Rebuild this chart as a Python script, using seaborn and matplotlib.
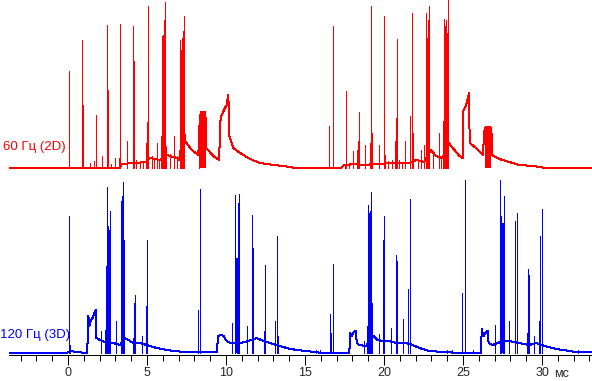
import numpy as np
import matplotlib
matplotlib.use("Agg")
import matplotlib.pyplot as plt
import seaborn as sns

# --- данные (время, мс; амплитуда, усл. ед.) ---
# огибающая / фон красного сигнала (60 Гц, 2D)
red_floor_t = [-3.73, 3.29, 3.40, 4.98, 5.19, 5.82, 6.25, 6.88, 7.03, 7.34, 7.41, 7.83, 8.25,
               8.35, 8.50, 8.72, 8.74, 9.20, 9.56, 9.66, 9.87, 10.04, 10.15, 10.21, 10.46,
               10.89, 11.52, 12.15, 13.00, 13.63, 14.37, 17.28, 17.49, 18.23, 18.65, 19.49,
               20.76, 21.60, 22.03, 22.55, 22.97, 23.29, 23.71, 24.09, 24.35, 24.77, 24.98,
               25.02, 25.19, 25.38, 25.42, 25.82, 26.25, 26.37, 26.79, 26.84, 27.30, 27.93,
               28.56, 29.41, 30.25, 33.16]
red_floor_h = [0, 0, 4, 6, 10, 8, 13, 10, 8, 40, 27, 18, 13,
               53, 50, 50, 20, 12, 8, 50, 58, 63, 73, 32, 20,
               15, 9, 5, 3, 2, 0, 0, 3, 4, 3, 4,
               5, 5, 8, 6, 18, 12, 10, 25, 20, 12, 10,
               57, 63, 75, 25, 20, 13, 40, 40, 13, 9, 6,
               3, 2, 0, 0]
# отдельные пики красного сигнала
red_spike_t = [0.06, 0.91, 0.95, 1.39, 1.65, 1.75, 2.13, 2.49, 2.53, 2.70, 2.97, 3.23, 3.31,
               3.76, 4.13, 4.20, 4.30, 4.56, 4.77, 4.92, 5.00, 5.04, 5.08, 5.30, 5.44, 5.61,
               5.74, 5.89, 5.97, 6.01, 6.06, 6.10, 6.16, 6.20, 6.46, 6.71, 6.92, 7.09, 7.11,
               7.15, 7.20, 7.24, 7.28, 7.31, 7.34, 8.31,
               16.54, 16.79, 17.55, 17.61, 17.80, 18.06, 18.29, 18.37, 18.44, 18.82, 19.09,
               19.20, 19.26, 19.66, 20.02, 20.08, 20.25, 20.49, 20.72, 20.76, 20.84, 20.93,
               21.14, 21.35, 21.67, 21.75, 21.79, 21.85, 22.13, 22.32, 22.51, 22.68, 22.72,
               22.76, 22.81, 22.87, 23.08, 23.46, 23.61, 23.75, 23.82, 23.88, 23.92, 23.97,
               24.03, 24.07]
red_spike_h = [97, 128, 63, 5, 7, 53, 12, 143, 78, 4, 10, 10, 144,
               27, 142, 107, 8, 7, 5, 25, 46, 138, 162, 12, 10, 25,
               8, 32, 132, 133, 148, 145, 166, 22, 14, 32, 12, 43, 128,
               118, 130, 122, 137, 128, 152, 35,
               42, 142, 4, 77, 5, 17, 18, 27, 56, 23, 25,
               162, 35, 23, 152, 13, 7, 8, 27, 50, 129, 8,
               6, 27, 52, 147, 155, 35, 8, 18, 23, 155, 130,
               148, 142, 162, 13, 35, 12, 47, 149, 142, 148, 135,
               168, 162]
# плотные «пачки» (начало, конец, верх)
red_burst_t0 = [5.95, 6.03, 7.10, 8.36, 22.67, 23.80, 26.38]
red_burst_t1 = [6.00, 6.14, 7.33, 8.71, 22.86, 24.02, 26.78]
red_burst_h = [108, 128, 112, 57, 120, 125, 42]

# огибающая / фон синего сигнала (120 Гц, 3D)
blue_floor_t = [-3.73, -0.08, 0.23, 0.51, 1.22, 1.29, 1.35, 1.43, 1.56, 1.67, 1.75, 1.79, 2.03,
                2.45, 2.87, 3.29, 3.61, 3.82, 4.13, 4.56, 5.19, 5.61, 6.25, 7.30, 7.93, 8.35,
                9.41, 9.51, 9.66, 9.87, 9.98, 10.25, 10.89, 11.41, 11.94, 12.36, 12.78, 13.42,
                14.05, 15.06, 16.12, 17.80, 17.87, 17.97, 18.06, 18.14, 18.23, 18.27, 18.44,
                18.86, 19.32, 19.60, 19.92, 20.34, 20.76, 21.39, 21.82, 22.23, 22.87, 23.71,
                24.77, 26.14, 26.18, 26.29, 26.42, 26.56, 26.62, 26.88, 27.51, 27.93, 28.56,
                29.20, 29.62, 30.15, 30.89, 31.73, 32.15, 33.16]
blue_floor_h = [0, 0, 2, 1, 0, 37, 27, 32, 35, 40, 43, 15, 13,
                10, 10, 8, 15, 13, 10, 10, 7, 5, 3, 1, 1, 1,
                1, 17, 18, 17, 13, 10, 10, 12, 15, 12, 10, 7,
                4, 2, 0, 0, 20, 17, 20, 22, 22, 10, 8,
                7, 17, 13, 12, 12, 10, 10, 8, 5, 2, 1,
                0, 0, 24, 17, 20, 22, 10, 8, 12, 12, 10,
                8, 10, 7, 4, 2, 1, 1]
# отдельные пики синего сигнала
blue_spike_t = [0.06, 0.13, 2.09, 2.36, 2.41, 2.49, 2.53, 2.59, 2.66, 3.04, 3.35, 3.44, 3.50,
                3.55, 4.13, 4.20, 4.26, 4.70, 4.92, 5.00, 8.25, 8.35, 10.36, 10.57, 10.67,
                10.74, 10.84, 11.31, 11.62, 11.69, 12.38, 12.47, 13.10, 13.21, 13.31, 15.70,
                15.95, 16.60, 16.67, 16.77, 18.71, 18.94, 19.00, 19.06, 19.13, 19.20, 19.26,
                19.66, 19.92, 19.96, 20.02, 20.44, 20.76, 20.84, 21.18, 21.54, 21.62, 23.99,
                24.30, 24.94, 25.13, 25.65, 27.04, 27.34, 27.43, 27.51, 27.57, 27.93, 28.29,
                28.40, 29.05, 29.11, 29.18, 29.47, 29.81, 29.89, 29.98, 32.30]
blue_spike_h = [137, 8, 22, 23, 87, 166, 127, 123, 142, 32, 152, 157, 171,
                113, 15, 50, 58, 17, 47, 113, 43, 164, 30, 158, 93,
                150, 159, 27, 138, 105, 22, 88, 32, 117, 17, 3,
                3, 39, 20, 89, 12, 27, 148, 140, 142, 161, 50,
                19, 23, 113, 137, 25, 98, 92, 34, 64, 154, 3,
                3, 60, 173, 3, 28, 173, 137, 130, 157, 32, 132,
                140, 20, 84, 78, 17, 32, 117, 144, 3]
blue_burst_t0 = [2.49, 3.38, 10.60, 19.00, 27.36]
blue_burst_t1 = [2.66, 3.50, 10.84, 19.20, 27.57]
blue_burst_h = [120, 145, 95, 135, 130]

x_ticks = [0, 5, 10, 15, 20, 25, 30]

sns.set_style("white")
plt.rcParams['font.family'] = ['Liberation Sans', 'DejaVu Sans']

W, H = 592, 381
fig = plt.figure(figsize=(W / 100, H / 100), dpi=100)
fig.patch.set_facecolor("white")

xlim = (-3.73, 33.16)
left = 9 / W
width = (W - 9) / W
LW = 0.72  # 1 пиксель


def draw_trace(ax, ft, fh, st, sh, b0, b1, bh, color):
    sns.lineplot(x=ft, y=fh, ax=ax, color=color, lw=LW,
                 estimator=None, sort=False, antialiased=False)
    ax.vlines(st, 0, sh, color=color, lw=LW, antialiased=False)
    for a, b, h in zip(b0, b1, bh):
        ax.fill_between([a, b], 0, h, color=color, lw=0, antialiased=False)


# верхняя панель: 60 Гц
ax_r = fig.add_axes([left, (H - 170) / H, width, 170 / H])
draw_trace(ax_r, red_floor_t, red_floor_h, red_spike_t, red_spike_h,
           red_burst_t0, red_burst_t1, red_burst_h, "#ff0000")
ax_r.set_xlim(*xlim)
ax_r.set_ylim(-2, 168)
ax_r.axis("off")

# нижняя панель: 120 Гц, с осью времени
ax_b = fig.add_axes([left, (H - 355) / H, width, 177 / H])
draw_trace(ax_b, blue_floor_t, blue_floor_h, blue_spike_t, blue_spike_h,
           blue_burst_t0, blue_burst_t1, blue_burst_h, "#0000ff")
ax_b.set_xlim(*xlim)
ax_b.set_ylim(-2, 175)
for s in ["top", "left", "right"]:
    ax_b.spines[s].set_visible(False)
ax_b.spines["bottom"].set_color("black")
ax_b.spines["bottom"].set_linewidth(LW)
ax_b.set_yticks([])
ax_b.set_xticks(x_ticks)
ax_b.set_xticks(np.arange(-3, 34), minor=True)
ax_b.tick_params(axis="x", which="major", direction="out", length=7.5, width=LW,
                 color="black", labelsize=9, pad=1, bottom=True)
ax_b.tick_params(axis="x", which="minor", direction="out", length=4.0, width=LW,
                 color="black", bottom=True)
ax_b.set_xlabel("")
ax_b.set_ylabel("")

fig.text(554 / W, 1 - 374 / H, "мс", fontsize=9, va="center", ha="left")
fig.text(3 / W, 1 - 147 / H, "60 Гц (2D)", color="#ff0000", fontsize=9.5,
         va="center", ha="left")
fig.text(0 / W, 1 - 335 / H, "120 Гц (3D)", color="#0000ff", fontsize=9.5,
         va="center", ha="left")

fig.savefig("out.png", dpi=100, facecolor="white")
